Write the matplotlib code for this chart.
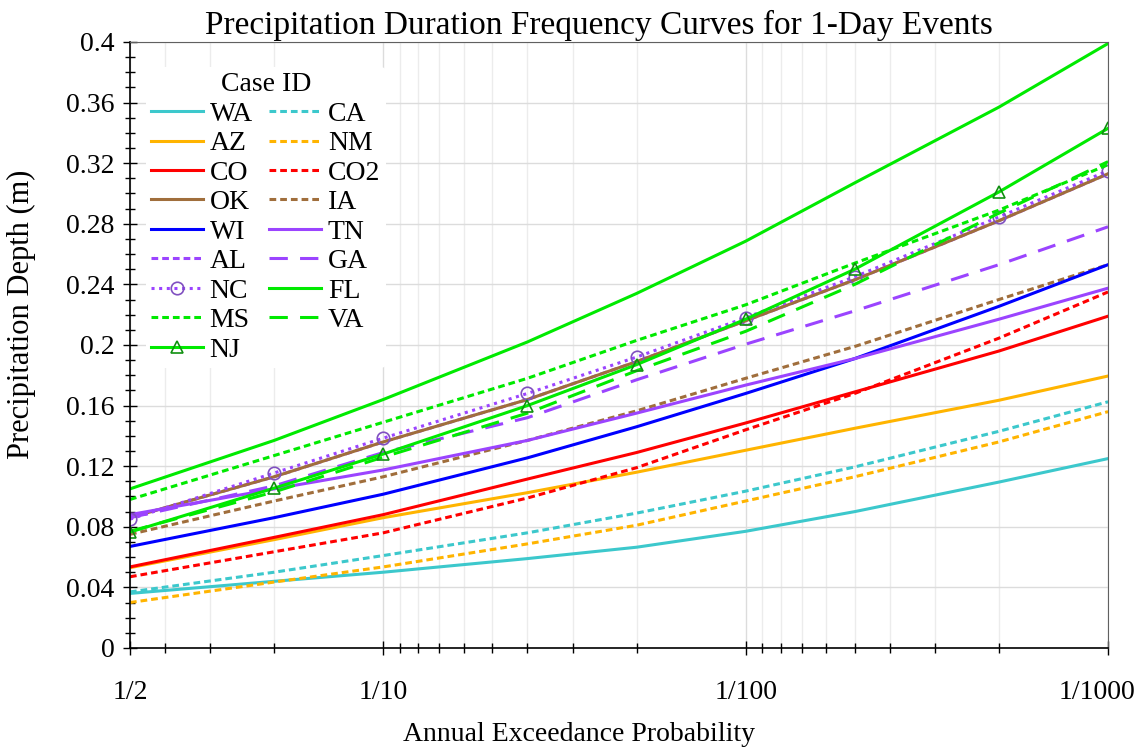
import matplotlib
matplotlib.use('Agg')
from matplotlib import pyplot as plt
from matplotlib.ticker import FixedLocator, NullFormatter, MultipleLocator
from matplotlib.transforms import ScaledTranslation

plt.rcParams['font.family'] = ['Liberation Serif', 'DejaVu Serif']

# annual exceedance probabilities
aep = [0.5, 0.2, 0.1, 0.04, 0.02, 0.01, 0.005, 0.002, 0.001]

# precipitation depth (m) per case
WA = [0.036, 0.044, 0.050, 0.059, 0.0665, 0.077, 0.090, 0.1095, 0.125]
CA = [0.037, 0.050, 0.061, 0.076, 0.089, 0.1035, 0.1195, 0.143, 0.1625]
AZ = [0.053, 0.0715, 0.086, 0.1025, 0.116, 0.1305, 0.145, 0.1635, 0.1795]
NM = [0.030, 0.0435, 0.0535, 0.0687, 0.081, 0.097, 0.113, 0.136, 0.156]
CO = [0.0535, 0.073, 0.088, 0.1115, 0.129, 0.1485, 0.169, 0.196, 0.219]
CO2 = [0.047, 0.0635, 0.076, 0.099, 0.119, 0.144, 0.168, 0.2045, 0.235]
OK = [0.086, 0.113, 0.136, 0.164, 0.189, 0.216, 0.243, 0.282, 0.313]
IA = [0.075, 0.097, 0.113, 0.137, 0.1565, 0.178, 0.199, 0.230, 0.253]
WI = [0.067, 0.086, 0.1015, 0.1255, 0.146, 0.168, 0.191, 0.2255, 0.253]
TN = [0.088, 0.105, 0.1175, 0.137, 0.155, 0.1735, 0.191, 0.217, 0.2375]
AL = [0.086, 0.113, 0.136, 0.164, 0.189, 0.216, 0.243, 0.282, 0.313]
GA = [0.086, 0.107, 0.129, 0.152, 0.177, 0.2005, 0.2225, 0.253, 0.278]
NC = [0.085, 0.1155, 0.1385, 0.168, 0.192, 0.218, 0.245, 0.2845, 0.315]
FL = [0.105, 0.137, 0.164, 0.202, 0.234, 0.2685, 0.307, 0.357, 0.399]
MS = [0.098, 0.127, 0.149, 0.178, 0.203, 0.2265, 0.254, 0.289, 0.319]
VA = [0.077, 0.103, 0.126, 0.155, 0.183, 0.209, 0.240, 0.287, 0.321]
NJ = [0.0765, 0.1055, 0.128, 0.160, 0.187, 0.217, 0.250, 0.301, 0.343]

x_ticks = [0.5, 0.1, 0.01, 0.001]
x_labels = ['1/2', '1/10', '1/100', '1/1000']

cyan = '#3cc8cc'
orange = '#ffb400'
red = '#ff0000'
brown = '#a06e3c'
blue = '#0000ff'
purple = '#9b44ff'
green = '#00ea00'

short = (0, (2.2, 1.3))
long = (0, (6, 4))
lw = 2.2

fig = plt.figure(figsize=(11.43, 7.51), dpi=100)
ax = fig.add_axes([0.1137, 0.1372, 0.8557, 0.8069])

h = {}
h['WA'], = ax.plot(aep, WA, color=cyan, lw=lw)
h['CA'], = ax.plot(aep, CA, color=cyan, lw=lw, ls=short)
h['AZ'], = ax.plot(aep, AZ, color=orange, lw=lw)
h['NM'], = ax.plot(aep, NM, color=orange, lw=lw, ls=short)
h['CO'], = ax.plot(aep, CO, color=red, lw=lw)
h['CO2'], = ax.plot(aep, CO2, color=red, lw=lw, ls=short)
h['AL'], = ax.plot(aep, AL, color=purple, lw=lw, ls=short)
h['OK'], = ax.plot(aep, OK, color=brown, lw=lw)
h['IA'], = ax.plot(aep, IA, color=brown, lw=lw, ls=short)
h['WI'], = ax.plot(aep, WI, color=blue, lw=lw)
h['TN'], = ax.plot(aep, TN, color=purple, lw=lw)
h['GA'], = ax.plot(aep, GA, color=purple, lw=lw, ls=long)
h['NC'], = ax.plot(aep, NC, color=purple, lw=lw, ls=(0, (1, 1.5)),
                   marker='o', ms=9, mfc='none', mec='#8050c0', mew=1.2)
h['FL'], = ax.plot(aep, FL, color=green, lw=lw)
h['MS'], = ax.plot(aep, MS, color=green, lw=lw, ls=short)
h['VA'], = ax.plot(aep, VA, color=green, lw=lw, ls=long)
h['NJ'], = ax.plot(aep, NJ, color=green, lw=lw,
                   marker='^', ms=9, mfc='none', mec='#109010', mew=1.2)

ax.set_xscale('log')
ax.set_xlim(0.5, 0.001)
ax.set_ylim(0, 0.4)

ax.xaxis.set_major_locator(FixedLocator(x_ticks))
ax.set_xticklabels(x_labels)
minor = [0.4, 0.3, 0.2] + [k / 100 for k in range(2, 10)] + [k / 1000 for k in range(2, 10)]
ax.xaxis.set_minor_locator(FixedLocator(minor))
ax.xaxis.set_minor_formatter(NullFormatter())

ax.yaxis.set_major_locator(MultipleLocator(0.04))
ax.yaxis.set_minor_locator(MultipleLocator(0.01))
ax.set_yticklabels(['0' if i == 0 else f'{v:g}' for i, v in enumerate(ax.get_yticks())])

ax.grid(True, which='major', color='#dcdcdc', lw=1.0)
ax.grid(True, which='minor', axis='x', color='#ececec', lw=1.0)
ax.set_axisbelow(True)

ax.tick_params(which='major', direction='inout', length=10, width=1, labelsize=20)
ax.tick_params(which='minor', direction='inout', length=7, width=1)
ax.tick_params(axis='x', which='major', pad=18)
ax.tick_params(axis='y', which='major', pad=6)

# keep the last x label inside the figure
last = ax.get_xticklabels()[-1]
last.set_transform(last.get_transform() + ScaledTranslation(-8 / 72, 0, fig.dpi_scale_trans))

for side in ['top', 'right']:
    ax.spines[side].set_color('#606060')
ax.spines['left'].set_linewidth(1.2)
ax.spines['bottom'].set_linewidth(1.2)

ax.set_xlabel('Annual Exceedance Probability', fontsize=20)
ax.xaxis.set_label_coords(0.459, -0.123)
ax.set_ylabel('Precipitation Depth (m)', fontsize=22)
ax.yaxis.set_label_coords(-0.096, 0.55)
ax.set_title('Precipitation Duration Frequency Curves for 1-Day Events', fontsize=24,
             pad=6, x=0.48)

order = ['WA', 'AZ', 'CO', 'OK', 'WI', 'AL', 'NC', 'MS', 'NJ',
         'CA', 'NM', 'CO2', 'IA', 'TN', 'GA', 'FL', 'VA']
leg = ax.legend([h[k] for k in order], order, ncol=2, loc='upper left',
                bbox_to_anchor=(0.002, 0.982), title='Case ID', fontsize=20,
                title_fontsize=20, frameon=True, facecolor='white', edgecolor='none',
                framealpha=1, handlelength=1.85, handletextpad=0.25, columnspacing=0.6,
                labelspacing=0.145, borderpad=0.2)
leg.set_zorder(5)

plt.savefig('out.png', dpi=100)
plt.close()
